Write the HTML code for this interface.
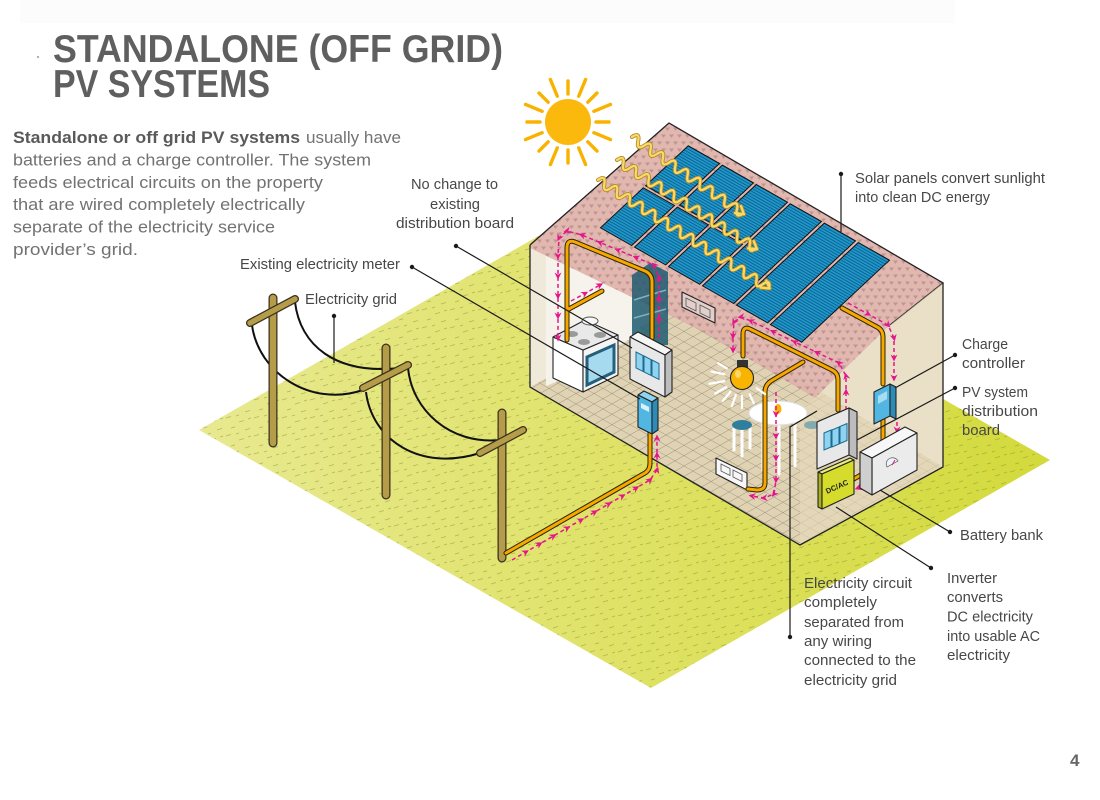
<!DOCTYPE html>
<html><head><meta charset="utf-8"><style>
html,body{margin:0;padding:0;background:#fff;width:1100px;height:800px;overflow:hidden}
svg{display:block}
text{font-family:"Liberation Sans",Arial,sans-serif}
.lb{font-size:15px;fill:#474747}
.pg{font-size:17px;fill:#727272}
.cab path{fill:none;stroke:#2e2300;stroke-width:5;stroke-linecap:round;stroke-linejoin:round}
.cab2 path{fill:none;stroke:#f7a800;stroke-width:3;stroke-linecap:round;stroke-linejoin:round}
.pk path{fill:none;stroke:#e4168a;stroke-width:1.5;stroke-dasharray:4 3;marker-mid:url(#ar);marker-end:url(#ar)}
.ld{fill:none;stroke:#1a1a1a;stroke-width:1.2}
.ol{stroke:#222;stroke-width:1.1;stroke-linejoin:round}
</style></head><body>
<svg width="1100" height="800" viewBox="0 0 1100 800" xmlns="http://www.w3.org/2000/svg">
<defs>
<linearGradient id="gg" x1="199" y1="0" x2="1050" y2="0" gradientUnits="userSpaceOnUse">
<stop offset="0" stop-color="#e8e990"/><stop offset="0.5" stop-color="#dfe266"/><stop offset="1" stop-color="#d3da3b"/>
</linearGradient>
<pattern id="grass" width="28" height="18" patternUnits="userSpaceOnUse">
<path d="M2,4 l5,-1.5 M15,8 l5,-1.5 M7,14 l4,-1.2 M21,16 l5,-1.5 M12,2 l3,-1 M24,5 l3,-1" stroke="#7d8a2a" stroke-width="0.9" opacity="0.5"/>
</pattern>
<pattern id="tiles" width="8" height="14" patternUnits="userSpaceOnUse">
<rect width="8" height="14" fill="#e0b3ad"/>
<path d="M1,1.5 L6,1.5 L3.5,5z M5,8.5 L10,8.5 L7.5,12z M-3,8.5 L2,8.5 L-0.5,12z" fill="#9c7976" opacity="0.6"/>
</pattern>
<pattern id="floor" width="9" height="9" patternUnits="userSpaceOnUse" patternTransform="matrix(1,0.575,-1,0.575,0,0)">
<rect width="9" height="9" fill="#e0d3b3"/>
<path d="M0,0H9M0,0V9" stroke="#857b6b" stroke-width="0.7"/>
</pattern>
<pattern id="pv" width="4" height="2.6" patternUnits="userSpaceOnUse" patternTransform="rotate(29.6)">
<rect width="4" height="2.6" fill="#1f97cc"/><rect width="4" height="0.8" fill="#0b5b82"/>
</pattern>
<marker id="ar" viewBox="0 0 8 8" refX="4" refY="4" markerWidth="7" markerHeight="7" orient="auto" markerUnits="userSpaceOnUse">
<path d="M0,0 L8,4 L0,8 L2.5,4z" fill="#e4168a"/>
</marker>
</defs>

<rect width="1100" height="800" fill="#fff"/>
<rect x="20" y="0" width="935" height="23" fill="#fcfcfc"/>

<!-- title -->
<circle cx="38" cy="57" r="1" fill="#999"/>
<text x="53" y="62" font-size="39" font-weight="bold" fill="#5f5f5f" textLength="450" lengthAdjust="spacingAndGlyphs">STANDALONE (OFF GRID)</text>
<text x="53" y="97" font-size="39" font-weight="bold" fill="#5f5f5f" textLength="217" lengthAdjust="spacingAndGlyphs">PV SYSTEMS</text>

<!-- paragraph -->
<text x="13" y="143" class="pg" font-weight="bold" style="fill:#5a5a5a" textLength="287" lengthAdjust="spacingAndGlyphs">Standalone or off grid PV systems</text>
<text x="306" y="143" class="pg" textLength="95" lengthAdjust="spacingAndGlyphs">usually have</text>
<text x="13" y="165.5" class="pg" textLength="358" lengthAdjust="spacingAndGlyphs">batteries and a charge controller. The system</text>
<text x="13" y="188" class="pg" textLength="310" lengthAdjust="spacingAndGlyphs">feeds electrical circuits on the property</text>
<text x="13" y="210" class="pg" textLength="292" lengthAdjust="spacingAndGlyphs">that are wired completely electrically</text>
<text x="13" y="232.5" class="pg" textLength="262" lengthAdjust="spacingAndGlyphs">separate of the electricity service</text>
<text x="13" y="255" class="pg" textLength="125" lengthAdjust="spacingAndGlyphs">provider’s grid.</text>

<!-- ground -->
<polygon points="199,430 598,202 1050,460 651,688" fill="url(#gg)"/>
<polygon points="199,430 598,202 1050,460 651,688" fill="url(#grass)"/>

<!-- poles & wires -->
<g fill="none" stroke="#111" stroke-width="2">
<path d="M252,325 C258,372 310,408 363,390"/>
<path d="M295,302 C300,345 335,375 400,368"/>
<path d="M366,392 C372,440 420,472 480,453"/>
<path d="M408,368 C412,410 450,445 500,440"/>
</g>
<g stroke-linecap="round">
<line x1="273" y1="298" x2="273" y2="443" stroke="#3a3020" stroke-width="9"/>
<line x1="273" y1="298" x2="273" y2="443" stroke="#b59c48" stroke-width="6.5"/>
<line x1="250" y1="323" x2="295" y2="299" stroke="#3a3020" stroke-width="8"/>
<line x1="250" y1="323" x2="295" y2="299" stroke="#b59c48" stroke-width="5.5"/>
<line x1="386" y1="348" x2="386" y2="495" stroke="#3a3020" stroke-width="9"/>
<line x1="386" y1="348" x2="386" y2="495" stroke="#b59c48" stroke-width="6.5"/>
<line x1="363" y1="388" x2="408" y2="365" stroke="#3a3020" stroke-width="8"/>
<line x1="363" y1="388" x2="408" y2="365" stroke="#b59c48" stroke-width="5.5"/>
<line x1="502" y1="413" x2="502" y2="558" stroke="#3a3020" stroke-width="9"/>
<line x1="502" y1="413" x2="502" y2="558" stroke="#b59c48" stroke-width="6.5"/>
<line x1="480" y1="453" x2="523" y2="430" stroke="#3a3020" stroke-width="8"/>
<line x1="480" y1="453" x2="523" y2="430" stroke="#b59c48" stroke-width="5.5"/>
</g>

<!-- house backdrop -->
<polygon points="530,245 669,123 943,283 943,467 800,545 530,387" fill="#efe9da"/>
<polygon points="530,387 800,545 943,467 680,305" fill="url(#floor)"/>
<polygon points="546,256 640,301 640,333 556,382 546,386" fill="#f6f3ec"/>

<!-- stove -->
<polygon points="553,337 583,350 583,392 553,378" fill="#fff" class="ol"/>
<polygon points="583,350 618,335 618,375 583,392" fill="#f4f4f4" class="ol"/>
<polygon points="553,337 585,320 618,335 583,350" fill="#e9e9e9" class="ol"/>
<g fill="#9a9a9a"><ellipse cx="572" cy="334" rx="6" ry="3"/><ellipse cx="600" cy="335" rx="6" ry="3"/><ellipse cx="584" cy="342" rx="6" ry="3"/></g>
<ellipse cx="590" cy="321" rx="8" ry="4" fill="#f7f7f7" stroke="#555" stroke-width="1"/>
<polygon points="587,357 614,345 614,372 587,385" fill="#a6dbef" stroke="#245f7d" stroke-width="3"/>

<!-- roof -->
<polygon points="530,245 669,123 943,283 890,325 815,398 700,330 530,248" fill="url(#tiles)" opacity="0.93"/>
<polyline points="530,245 669,123 943,283 890,325" fill="none" stroke="#222" stroke-width="1.3"/>

<!-- fridge -->
<polygon points="632,275 650,263 668,272 668,345 632,345" fill="#1f5b70" opacity="0.85"/>
<path d="M634,300 L666,290 M634,318 L666,309" stroke="#7fb3c4" stroke-width="1.5"/>

<!-- panels -->
<g fill="url(#pv)" stroke="#111" stroke-width="1">
<polygon points="688.3,145.8 719.5,163.5 676.7,203.5 645.5,185.8"/>
<polygon points="643.3,187.8 674.5,205.5 631.7,245.5 600.5,227.8"/>
<polygon points="722.3,165.1 753.5,182.9 710.7,222.9 679.5,205.1"/>
<polygon points="677.3,207.1 708.5,224.9 665.7,264.9 634.5,247.1"/>
<polygon points="756.3,184.5 787.5,202.2 744.7,242.2 713.5,224.5"/>
<polygon points="711.3,226.5 742.5,244.2 699.7,284.2 668.5,266.5"/>
<polygon points="790.3,203.8 821.5,221.5 733.7,303.5 702.5,285.8"/>
<polygon points="824.3,223.1 855.5,240.9 767.7,322.9 736.5,305.1"/>
<polygon points="858.3,242.5 889.5,260.2 801.7,342.2 770.5,324.5"/>
</g>

<!-- wall outlet on back -->
<polygon points="682,292 715,308 715,323 682,307" fill="#e2cfcc" class="ol"/>
<path d="M686,298 l10,5 v8 l-10,-5z M700,305 l10,5 v8 l-10,-5z" fill="none" stroke="#555" stroke-width="0.8"/>

<!-- right gable wall -->
<polygon points="943,283 943,467 800,545 800,410 815,398 890,325" fill="#e6dabb" opacity="0.62"/>
<polyline points="943,283 943,467 800,545 530,387 530,245" fill="none" stroke="#222" stroke-width="1.3"/>

<!-- sun -->
<g transform="translate(568,122)" stroke="#f9b200" stroke-width="3.4" stroke-linecap="round">
<line x1="28" x2="41" transform="rotate(0)"/><line x1="28" x2="46" transform="rotate(22.5)"/>
<line x1="28" x2="41" transform="rotate(45)"/><line x1="28" x2="46" transform="rotate(67.5)"/>
<line x1="28" x2="41" transform="rotate(90)"/><line x1="28" x2="46" transform="rotate(112.5)"/>
<line x1="28" x2="41" transform="rotate(135)"/><line x1="28" x2="46" transform="rotate(157.5)"/>
<line x1="28" x2="41" transform="rotate(180)"/><line x1="28" x2="46" transform="rotate(202.5)"/>
<line x1="28" x2="41" transform="rotate(225)"/><line x1="28" x2="46" transform="rotate(247.5)"/>
<line x1="28" x2="41" transform="rotate(270)"/><line x1="28" x2="46" transform="rotate(292.5)"/>
<line x1="28" x2="41" transform="rotate(315)"/><line x1="28" x2="46" transform="rotate(337.5)"/>
</g>
<circle cx="568" cy="122" r="23" fill="#fbb80d"/>

<!-- waves -->
<g fill="none" stroke-linecap="round" stroke-linejoin="round">
<g transform="translate(632,137) rotate(34.6)">
<path d="M0,0 q3.75,-9 7.5,0 t7.5,0 t7.5,0 t7.5,0 t7.5,0 t7.5,0 t7.5,0 t7.5,0 t7.5,0 t7.5,0 t7.5,0 t7.5,0 t7.5,0 t7.5,0 t7.5,0 t7.5,0 t7.5,0 t7.5,0 M129,-5 L136,0 L128,4" stroke="#b48a1e" stroke-width="4"/>
<path d="M0,0 q3.75,-9 7.5,0 t7.5,0 t7.5,0 t7.5,0 t7.5,0 t7.5,0 t7.5,0 t7.5,0 t7.5,0 t7.5,0 t7.5,0 t7.5,0 t7.5,0 t7.5,0 t7.5,0 t7.5,0 t7.5,0 t7.5,0 M129,-5 L136,0 L128,4" stroke="#f8d96b" stroke-width="2.3"/>
</g>
<g transform="translate(617,160) rotate(32.5)">
<path d="M0,0 q3.75,-9 7.5,0 t7.5,0 t7.5,0 t7.5,0 t7.5,0 t7.5,0 t7.5,0 t7.5,0 t7.5,0 t7.5,0 t7.5,0 t7.5,0 t7.5,0 t7.5,0 t7.5,0 t7.5,0 t7.5,0 t7.5,0 t7.5,0 t7.5,0 t7.5,0 t7.5,0 M159,-5 L166,0 L158,4" stroke="#b48a1e" stroke-width="4"/>
<path d="M0,0 q3.75,-9 7.5,0 t7.5,0 t7.5,0 t7.5,0 t7.5,0 t7.5,0 t7.5,0 t7.5,0 t7.5,0 t7.5,0 t7.5,0 t7.5,0 t7.5,0 t7.5,0 t7.5,0 t7.5,0 t7.5,0 t7.5,0 t7.5,0 t7.5,0 t7.5,0 t7.5,0 M159,-5 L166,0 L158,4" stroke="#f8d96b" stroke-width="2.3"/>
</g>
<g transform="translate(598,180) rotate(32.3)">
<path d="M0,0 q3.75,-9 7.5,0 t7.5,0 t7.5,0 t7.5,0 t7.5,0 t7.5,0 t7.5,0 t7.5,0 t7.5,0 t7.5,0 t7.5,0 t7.5,0 t7.5,0 t7.5,0 t7.5,0 t7.5,0 t7.5,0 t7.5,0 t7.5,0 t7.5,0 t7.5,0 t7.5,0 t7.5,0 t7.5,0 t7.5,0 t7.5,0 t7.5,0 M196,-5 L203,0 L195,4" stroke="#b48a1e" stroke-width="4"/>
<path d="M0,0 q3.75,-9 7.5,0 t7.5,0 t7.5,0 t7.5,0 t7.5,0 t7.5,0 t7.5,0 t7.5,0 t7.5,0 t7.5,0 t7.5,0 t7.5,0 t7.5,0 t7.5,0 t7.5,0 t7.5,0 t7.5,0 t7.5,0 t7.5,0 t7.5,0 t7.5,0 t7.5,0 t7.5,0 t7.5,0 t7.5,0 t7.5,0 t7.5,0 M196,-5 L203,0 L195,4" stroke="#f8d96b" stroke-width="2.3"/>
</g>
</g>

<!-- table & chairs -->
<g stroke="#fff" stroke-width="3" stroke-linecap="round">
<line x1="763" y1="420" x2="763" y2="470"/><line x1="795" y1="420" x2="795" y2="466"/><line x1="779" y1="424" x2="779" y2="474"/>
<line x1="734" y1="428" x2="734" y2="450"/><line x1="742" y1="430" x2="742" y2="456"/><line x1="750" y1="428" x2="750" y2="448"/>
</g>
<ellipse cx="778" cy="413" rx="29" ry="12" fill="#fff" stroke="#ddd" stroke-width="1"/>
<ellipse cx="742" cy="425" rx="10" ry="5" fill="#2f7f9c"/>
<ellipse cx="812" cy="425" rx="8" ry="4" fill="#5d9aab" opacity="0.7"/>
<ellipse cx="778" cy="409" rx="3.5" ry="5" fill="#f8b400"/>

<!-- floor outlet -->
<polygon points="716,458 747,473 747,490 716,474" fill="#f7f7f7" class="ol"/>
<path d="M721,464 l9,4.5 v7 l-9,-4.5z M733,470 l9,4.5 v7 l-9,-4.5z" fill="none" stroke="#555" stroke-width="0.8"/>

<!-- cables -->
<g class="cab">
<path d="M506,553 L645,473 Q650,470 650,463 L650,432"/>
<path d="M652,338 L652,282 Q652,274 645,271 L575,242 Q567,239 567,248 L567,340"/>
<path d="M567,310 L602,291"/>
<path d="M743,356 L743,334 Q743,326 750,329 L832,370 Q838,373 838,380 L838,410"/>
<path d="M803,362 L771,381 Q765,385 765,392 L765,483 Q765,490 757,490 L748,489"/>
<path d="M842,308 L877,327 Q883,330 883,337 L883,384"/>
<path d="M883,420 L883,442"/>
<path d="M852,480 L866,472"/>
<path d="M837,466 L837,474"/>
</g>
<g class="cab2">
<path d="M506,553 L645,473 Q650,470 650,463 L650,432"/>
<path d="M652,338 L652,282 Q652,274 645,271 L575,242 Q567,239 567,248 L567,340"/>
<path d="M567,310 L602,291"/>
<path d="M743,356 L743,334 Q743,326 750,329 L832,370 Q838,373 838,380 L838,410"/>
<path d="M803,362 L771,381 Q765,385 765,392 L765,483 Q765,490 757,490 L748,489"/>
<path d="M842,308 L877,327 Q883,330 883,337 L883,384"/>
<path d="M883,420 L883,442"/>
<path d="M852,480 L866,472"/>
<path d="M837,466 L837,474"/>
</g>

<!-- pink flow -->
<g class="pk">
<path d="M512,560 L525.8,552 L539.6,544 L553.4,536 L567.2,528 L581,520 L594.8,512 L608.6,504 L622.4,496 L636.2,488 L650,480 L657,470 L657,455 L657,438"/>
<path d="M659,338 L659,318 L659,298 L659,278 L654,265 L636,257.5 L618,250 L600,242.5 L582,235 L567,231 L559,238 L558,256 L558,276 L558,296 L558,316 L558,338"/>
<path d="M571,301 L585,293.5 L600,285"/>
<path d="M846,410 L846,392 L846,376 L839,363 L817,352.5 L795,342 L773,331.5 L751,321 L741,317 L734,322 L733,336 L733,350"/>
<path d="M776,392 L776,414 L776,436 L776,458 L776,480 L774,494 L764,498 L752,496"/>
<path d="M848,303 L868,314 L888,325 L894,338 L894,358 L894,378"/>
<path d="M897,422 L897,430 L897,438"/>
<path d="M848,478 L848,470 L848,462"/>
<path d="M874,482 L866,485 L858,488"/>
</g>

<!-- existing distribution board -->
<polygon points="630,337 638,332 672,350 665,355" fill="#f6f6f6" class="ol"/>
<polygon points="630,337 665,355 665,397 630,379" fill="#e8e8e8" class="ol"/>
<polygon points="665,355 672,350 672,392 665,397" fill="#bdbdbd" class="ol"/>
<path d="M636,352 l7,3.5 v16 l-7,-3.5z M644,356 l7,3.5 v16 l-7,-3.5z M652,360 l7,3.5 v16 l-7,-3.5z" fill="#8fd3f0" stroke="#1d6a8f" stroke-width="1"/>

<!-- meter -->
<polygon points="638,395 644,391 658,398 652,402" fill="#8fd3f0" class="ol"/>
<polygon points="638,395 652,402 652,434 638,427" fill="#52b6e2" class="ol"/>
<polygon points="652,402 658,398 658,430 652,434" fill="#2d8bb8" class="ol"/>
<polygon points="641,403 649,407 649,412 641,408" fill="#d9f1fb"/>

<!-- bulb -->
<g stroke="#fff" stroke-width="2.2" stroke-linecap="round" transform="translate(742,378)">
<line x1="18" x2="31" transform="rotate(150)"/><line x1="18" x2="33" transform="rotate(170)"/>
<line x1="18" x2="31" transform="rotate(192)"/><line x1="18" x2="30" transform="rotate(130)"/>
<line x1="18" x2="30" transform="rotate(110)"/><line x1="18" x2="30" transform="rotate(90)"/>
<line x1="18" x2="28" transform="rotate(65)"/><line x1="18" x2="28" transform="rotate(35)"/>
<line x1="18" x2="28" transform="rotate(212)"/>
</g>
<path d="M737,360 h11 v8 h-11z" fill="#333"/>
<circle cx="742" cy="378" r="11.5" fill="#f8b400" class="ol"/>
<ellipse cx="738" cy="374" rx="3" ry="4" fill="#fcd768"/>

<!-- PV distribution board -->
<polygon points="817,422 849,408 857,412 825,426" fill="#f6f6f6" class="ol"/>
<polygon points="817,422 849,408 849,455 817,469" fill="#e8e8e8" class="ol"/>
<polygon points="849,408 857,412 857,459 849,455" fill="#bdbdbd" class="ol"/>
<path d="M824,433 l7,-3 v17 l-7,3z M832,430 l7,-3 v17 l-7,3z M840,426.5 l7,-3 v17 l-7,3z" fill="#8fd3f0" stroke="#1d6a8f" stroke-width="1"/>

<!-- inverter -->
<polygon points="818,472 850,458 854,460 822,474" fill="#e7ec73" class="ol"/>
<polygon points="818,472 822,474 822,509 818,507" fill="#a9b01c" class="ol"/>
<polygon points="822,474 854,460 854,494 822,509" fill="#d5dc2c" class="ol"/>
<text x="838" y="489" transform="rotate(-24 838 489)" font-size="7.5" font-weight="bold" text-anchor="middle" fill="#222">DC/AC</text>

<!-- battery -->
<polygon points="860,452 905,427 917,433 872,458" fill="#f7f7f7" class="ol"/>
<polygon points="872,458 917,433 917,470 872,495" fill="#ebebeb" class="ol"/>
<polygon points="860,452 872,458 872,495 860,488" fill="#cfcfcf" class="ol"/>
<path d="M887,467 a6,6 0 0 1 11,-6 z" fill="#e9f4fb" stroke="#555" stroke-width="0.7"/>
<line x1="892" y1="465" x2="895" y2="460" stroke="#e4168a" stroke-width="1"/>

<!-- charge controller -->
<polygon points="874,392 890,384 890,416 874,424" fill="#52b6e2" class="ol"/>
<polygon points="890,384 896,387 896,419 890,416" fill="#2d8bb8" class="ol"/>
<polygon points="878,396 887,391 887,399 878,404" fill="#a8dcf1"/>

<!-- leaders -->
<g class="ld">
<line x1="456" y1="246" x2="632" y2="348"/>
<line x1="412" y1="267" x2="640" y2="399"/>
<line x1="334" y1="316" x2="334" y2="363"/>
<line x1="841" y1="174" x2="841" y2="232"/>
<line x1="955" y1="355" x2="895" y2="388"/>
<line x1="955" y1="388" x2="857" y2="440"/>
<line x1="950" y1="532" x2="880" y2="490"/>
<line x1="931" y1="568" x2="836" y2="507"/>
<polyline points="790,637 790,427 817,411"/>
</g>
<g fill="#1a1a1a">
<circle cx="456" cy="246" r="2.2"/><circle cx="412" cy="267" r="2.2"/><circle cx="334" cy="316" r="2.2"/>
<circle cx="841" cy="174" r="2.2"/><circle cx="955" cy="355" r="2.2"/><circle cx="955" cy="388" r="2.2"/>
<circle cx="950" cy="532" r="2.2"/><circle cx="931" cy="568" r="2.2"/><circle cx="790" cy="637" r="2.2"/>
</g>

<!-- labels -->
<text x="411" y="189" class="lb" textLength="87" lengthAdjust="spacingAndGlyphs">No change to</text>
<text x="430" y="209" class="lb" textLength="50" lengthAdjust="spacingAndGlyphs">existing</text>
<text x="396" y="228" class="lb" textLength="118" lengthAdjust="spacingAndGlyphs">distribution board</text>
<text x="240" y="269" class="lb" textLength="160" lengthAdjust="spacingAndGlyphs">Existing electricity meter</text>
<text x="305" y="304" class="lb" textLength="92" lengthAdjust="spacingAndGlyphs">Electricity grid</text>
<text x="855" y="183" class="lb" textLength="190" lengthAdjust="spacingAndGlyphs">Solar panels convert sunlight</text>
<text x="855" y="202" class="lb" textLength="135" lengthAdjust="spacingAndGlyphs">into clean DC energy</text>
<text x="962" y="349" class="lb" textLength="46" lengthAdjust="spacingAndGlyphs">Charge</text>
<text x="962" y="368" class="lb" textLength="63" lengthAdjust="spacingAndGlyphs">controller</text>
<text x="962" y="397" class="lb" textLength="66" lengthAdjust="spacingAndGlyphs">PV system</text>
<text x="962" y="416" class="lb" textLength="76" lengthAdjust="spacingAndGlyphs">distribution</text>
<text x="962" y="435" class="lb" textLength="38" lengthAdjust="spacingAndGlyphs">board</text>
<text x="960" y="540" class="lb" textLength="83" lengthAdjust="spacingAndGlyphs">Battery bank</text>
<text x="947" y="583" class="lb" textLength="50" lengthAdjust="spacingAndGlyphs">Inverter</text>
<text x="947" y="602" class="lb" textLength="56" lengthAdjust="spacingAndGlyphs">converts</text>
<text x="947" y="621.5" class="lb" textLength="86" lengthAdjust="spacingAndGlyphs">DC electricity</text>
<text x="947" y="641" class="lb" textLength="93" lengthAdjust="spacingAndGlyphs">into usable AC</text>
<text x="947" y="660" class="lb" textLength="63" lengthAdjust="spacingAndGlyphs">electricity</text>
<text x="804" y="588" class="lb" textLength="108" lengthAdjust="spacingAndGlyphs">Electricity circuit</text>
<text x="804" y="607" class="lb" textLength="73" lengthAdjust="spacingAndGlyphs">completely</text>
<text x="804" y="627" class="lb" textLength="100" lengthAdjust="spacingAndGlyphs">separated from</text>
<text x="804" y="646" class="lb" textLength="68" lengthAdjust="spacingAndGlyphs">any wiring</text>
<text x="804" y="665" class="lb" textLength="112" lengthAdjust="spacingAndGlyphs">connected to the</text>
<text x="804" y="685" class="lb" textLength="93" lengthAdjust="spacingAndGlyphs">electricity grid</text>

<text x="1070" y="766" font-size="17" font-weight="bold" fill="#666">4</text>
</svg>
</body></html>
